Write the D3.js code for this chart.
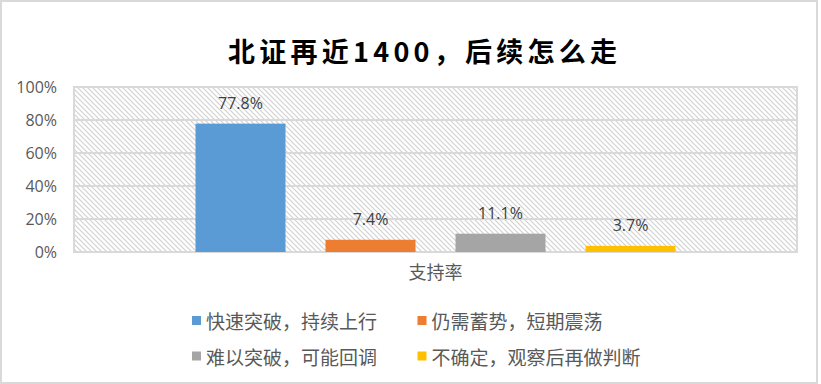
<!DOCTYPE html>
<html>
<head>
<meta charset="utf-8">
<script src="https://cdn.jsdelivr.net/npm/d3@7"></script>
<style>
  html, body { margin: 0; padding: 0; background: #fff; }
  svg { display: block; }
</style>
</head>
<body>
<div id="chart"></div>
<script>
// ---- data ----
const title = "北证再近1400，后续怎么走";
const categories = ["支持率"];
const seriesNames = ["快速突破，持续上行", "仍需蓄势，短期震荡", "难以突破，可能回调", "不确定，观察后再做判断"];
const seriesValues = [77.8, 7.4, 11.1, 3.7];
const yTickValues = [0, 20, 40, 60, 80, 100];
const seriesColors = ["#5B9BD5", "#ED7D31", "#A5A5A5", "#FFC000"];

// ---- layout ----
const W = 821, H = 384;
const plot = { left: 74, right: 797, top: 87, bottom: 252 };
const latin = "'Open Sans', 'Noto Sans', 'Noto Sans CJK SC', sans-serif";
const cjk = "'Noto Sans CJK SC', 'Noto Sans', sans-serif";

const svg = d3.select("#chart").append("svg")
  .attr("width", W).attr("height", H);

svg.append("rect").attr("width", W).attr("height", H).attr("fill", "#fff");

// outer border
svg.append("rect")
  .attr("x", 1).attr("y", 1).attr("width", 816).attr("height", 382)
  .attr("fill", "none").attr("stroke", "#d9d9d9").attr("stroke-width", 2);

// hatch pattern
const defs = svg.append("defs");
const pat = defs.append("pattern")
  .attr("id", "hatch").attr("patternUnits", "userSpaceOnUse")
  .attr("width", 5).attr("height", 5);
pat.append("rect").attr("width", 5).attr("height", 5).attr("fill", "#fff");
pat.append("path")
  .attr("d", "M-1,-1 L6,6 M-1,4 L1,6 M4,-1 L6,1")
  .attr("stroke", "#d2d2d2").attr("stroke-width", 1.2);

// title
svg.append("text")
  .attr("x", 228).attr("y", 50)
  .attr("dominant-baseline", "central")
  .attr("textLength", 389).attr("lengthAdjust", "spacing")
  .attr("font-family", cjk).attr("font-weight", "bold")
  .attr("font-size", 27).attr("fill", "#000")
  .text(title);

// scales
const y = d3.scaleLinear().domain([0, 100]).range([plot.bottom, plot.top]);
const x0 = d3.scaleBand().domain(categories).range([plot.left, plot.right]);
const cx = x0(categories[0]) + x0.bandwidth() / 2;
const x1 = d3.scaleBand().domain(seriesNames)
  .range([cx - 260, cx + 260])
  .paddingInner(40 / 130).paddingOuter(20 / 130);

// plot background
svg.append("rect")
  .attr("x", plot.left).attr("y", plot.top)
  .attr("width", plot.right - plot.left).attr("height", plot.bottom - plot.top)
  .attr("fill", "url(#hatch)");

// gridlines
svg.append("g").selectAll("line").data(yTickValues).join("line")
  .attr("x1", plot.left).attr("x2", plot.right)
  .attr("y1", d => Math.round(y(d))).attr("y2", d => Math.round(y(d)))
  .attr("stroke", "#d9d9d9").attr("stroke-width", 2);

// plot border
svg.append("rect")
  .attr("x", plot.left).attr("y", plot.top)
  .attr("width", plot.right - plot.left).attr("height", plot.bottom - plot.top)
  .attr("fill", "none").attr("stroke", "#d9d9d9").attr("stroke-width", 2);

// y axis labels
const yAxis = d3.axisLeft(y).tickValues(yTickValues).tickFormat(d => d + "%").tickSize(0).tickPadding(17);
const gy = svg.append("g").attr("transform", `translate(${plot.left},0)`).call(yAxis);
gy.select(".domain").remove();
gy.selectAll("text")
  .attr("font-family", latin).attr("font-size", 16).attr("fill", "#595959")
  .attr("dy", "0.36em");

// bars
const bars = seriesNames.map((s, i) => ({ name: s, value: seriesValues[i], color: seriesColors[i] }));
svg.append("g").selectAll("rect").data(bars).join("rect")
  .attr("x", d => x1(d.name)).attr("width", x1.bandwidth())
  .attr("y", d => y(d.value)).attr("height", d => y(0) - y(d.value))
  .attr("fill", d => d.color);

// data labels
svg.append("g").selectAll("text").data(bars).join("text")
  .attr("x", d => x1(d.name) + x1.bandwidth() / 2)
  .attr("y", d => y(d.value) - 15)
  .attr("text-anchor", "middle")
  .attr("font-family", latin).attr("font-size", 16).attr("fill", "#404040")
  .text(d => d.value.toFixed(1) + "%");

// category axis label
const xAxis = d3.axisBottom(x0).tickSize(0).tickPadding(14);
const gx = svg.append("g").attr("transform", `translate(0,${plot.bottom})`).call(xAxis);
gx.select(".domain").remove();
gx.selectAll("text")
  .attr("font-family", cjk).attr("font-size", 18).attr("fill", "#595959");

// legend
const legendPos = [[192, 320.5], [417.5, 320.5], [192, 356], [417.5, 356]];
const lg = svg.append("g").selectAll("g").data(bars).join("g")
  .attr("transform", (d, i) => `translate(${legendPos[i][0]},${legendPos[i][1]})`);
lg.append("rect").attr("x", 0).attr("y", -4.5).attr("width", 9).attr("height", 9)
  .attr("fill", d => d.color);
lg.append("text").attr("x", 14).attr("y", 0)
  .attr("dominant-baseline", "central")
  .attr("font-family", cjk).attr("font-size", 19).attr("fill", "#595959")
  .text(d => d.name);
</script>
</body>
</html>
